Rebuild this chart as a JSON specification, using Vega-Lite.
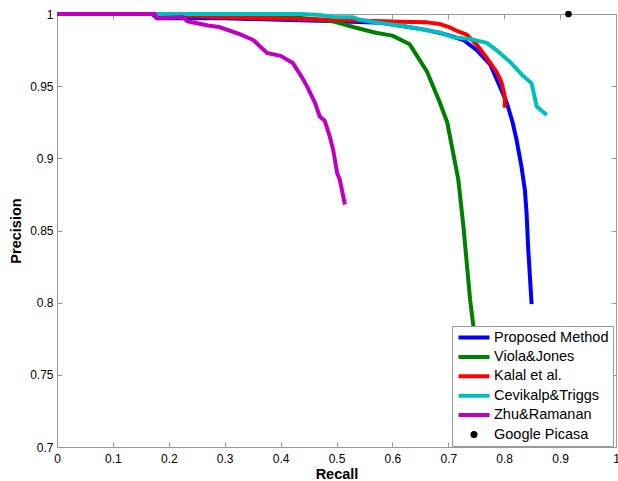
{
  "$schema": "https://vega.github.io/schema/vega-lite/v6.json",
  "autosize": "none",
  "width": 559,
  "height": 433,
  "padding": {"left": 57, "top": 14, "right": 2, "bottom": 34},
  "background": "white",
  "config": {
    "font": "Liberation Sans",
    "view": {"stroke": null}
  },
  "datasets": {
    "curves": [
      {"method": "Proposed Method", "order": 1, "recall": 0, "precision": 1},
      {"method": "Proposed Method", "order": 2, "recall": 0.17, "precision": 1},
      {"method": "Proposed Method", "order": 3, "recall": 0.18, "precision": 0.997},
      {"method": "Proposed Method", "order": 4, "recall": 0.3, "precision": 0.997},
      {"method": "Proposed Method", "order": 5, "recall": 0.4, "precision": 0.996},
      {"method": "Proposed Method", "order": 6, "recall": 0.5, "precision": 0.995},
      {"method": "Proposed Method", "order": 7, "recall": 0.58, "precision": 0.994},
      {"method": "Proposed Method", "order": 8, "recall": 0.62, "precision": 0.9915},
      {"method": "Proposed Method", "order": 9, "recall": 0.66, "precision": 0.989},
      {"method": "Proposed Method", "order": 10, "recall": 0.697, "precision": 0.9857},
      {"method": "Proposed Method", "order": 11, "recall": 0.727, "precision": 0.982},
      {"method": "Proposed Method", "order": 12, "recall": 0.751, "precision": 0.975},
      {"method": "Proposed Method", "order": 13, "recall": 0.775, "precision": 0.965},
      {"method": "Proposed Method", "order": 14, "recall": 0.792, "precision": 0.95},
      {"method": "Proposed Method", "order": 15, "recall": 0.805, "precision": 0.938},
      {"method": "Proposed Method", "order": 16, "recall": 0.815, "precision": 0.925},
      {"method": "Proposed Method", "order": 17, "recall": 0.822, "precision": 0.913},
      {"method": "Proposed Method", "order": 18, "recall": 0.831, "precision": 0.894},
      {"method": "Proposed Method", "order": 19, "recall": 0.837, "precision": 0.878},
      {"method": "Proposed Method", "order": 20, "recall": 0.84, "precision": 0.862},
      {"method": "Proposed Method", "order": 21, "recall": 0.843, "precision": 0.837},
      {"method": "Proposed Method", "order": 22, "recall": 0.846, "precision": 0.818},
      {"method": "Proposed Method", "order": 23, "recall": 0.849, "precision": 0.799},
      {"method": "Viola&Jones", "order": 1, "recall": 0, "precision": 1},
      {"method": "Viola&Jones", "order": 2, "recall": 0.3, "precision": 1},
      {"method": "Viola&Jones", "order": 3, "recall": 0.42, "precision": 0.998},
      {"method": "Viola&Jones", "order": 4, "recall": 0.494, "precision": 0.995},
      {"method": "Viola&Jones", "order": 5, "recall": 0.53, "precision": 0.991},
      {"method": "Viola&Jones", "order": 6, "recall": 0.57, "precision": 0.987},
      {"method": "Viola&Jones", "order": 7, "recall": 0.6, "precision": 0.985},
      {"method": "Viola&Jones", "order": 8, "recall": 0.631, "precision": 0.979},
      {"method": "Viola&Jones", "order": 9, "recall": 0.662, "precision": 0.96},
      {"method": "Viola&Jones", "order": 10, "recall": 0.685, "precision": 0.9385},
      {"method": "Viola&Jones", "order": 11, "recall": 0.698, "precision": 0.925},
      {"method": "Viola&Jones", "order": 12, "recall": 0.718, "precision": 0.885},
      {"method": "Viola&Jones", "order": 13, "recall": 0.727, "precision": 0.853},
      {"method": "Viola&Jones", "order": 14, "recall": 0.739, "precision": 0.802},
      {"method": "Viola&Jones", "order": 15, "recall": 0.745, "precision": 0.7835},
      {"method": "Viola&Jones", "order": 16, "recall": 0.77, "precision": 0.7},
      {"method": "Kalal et al.", "order": 1, "recall": 0, "precision": 1},
      {"method": "Kalal et al.", "order": 2, "recall": 0.17, "precision": 1},
      {"method": "Kalal et al.", "order": 3, "recall": 0.28, "precision": 0.998},
      {"method": "Kalal et al.", "order": 4, "recall": 0.435, "precision": 0.9965},
      {"method": "Kalal et al.", "order": 5, "recall": 0.494, "precision": 0.996},
      {"method": "Kalal et al.", "order": 6, "recall": 0.554, "precision": 0.9954},
      {"method": "Kalal et al.", "order": 7, "recall": 0.614, "precision": 0.9947},
      {"method": "Kalal et al.", "order": 8, "recall": 0.662, "precision": 0.9942},
      {"method": "Kalal et al.", "order": 9, "recall": 0.685, "precision": 0.993},
      {"method": "Kalal et al.", "order": 10, "recall": 0.703, "precision": 0.9907},
      {"method": "Kalal et al.", "order": 11, "recall": 0.715, "precision": 0.9884},
      {"method": "Kalal et al.", "order": 12, "recall": 0.733, "precision": 0.9857},
      {"method": "Kalal et al.", "order": 13, "recall": 0.751, "precision": 0.9787},
      {"method": "Kalal et al.", "order": 14, "recall": 0.769, "precision": 0.9695},
      {"method": "Kalal et al.", "order": 15, "recall": 0.786, "precision": 0.96},
      {"method": "Kalal et al.", "order": 16, "recall": 0.795, "precision": 0.953},
      {"method": "Kalal et al.", "order": 17, "recall": 0.801, "precision": 0.943},
      {"method": "Kalal et al.", "order": 18, "recall": 0.801, "precision": 0.935},
      {"method": "Cevikalp&Triggs", "order": 1, "recall": 0, "precision": 1},
      {"method": "Cevikalp&Triggs", "order": 2, "recall": 0.435, "precision": 1},
      {"method": "Cevikalp&Triggs", "order": 3, "recall": 0.47, "precision": 0.9993},
      {"method": "Cevikalp&Triggs", "order": 4, "recall": 0.494, "precision": 0.998},
      {"method": "Cevikalp&Triggs", "order": 5, "recall": 0.53, "precision": 0.9977},
      {"method": "Cevikalp&Triggs", "order": 6, "recall": 0.542, "precision": 0.996},
      {"method": "Cevikalp&Triggs", "order": 7, "recall": 0.578, "precision": 0.9938},
      {"method": "Cevikalp&Triggs", "order": 8, "recall": 0.614, "precision": 0.992},
      {"method": "Cevikalp&Triggs", "order": 9, "recall": 0.649, "precision": 0.9896},
      {"method": "Cevikalp&Triggs", "order": 10, "recall": 0.685, "precision": 0.9872},
      {"method": "Cevikalp&Triggs", "order": 11, "recall": 0.709, "precision": 0.9838},
      {"method": "Cevikalp&Triggs", "order": 12, "recall": 0.739, "precision": 0.9827},
      {"method": "Cevikalp&Triggs", "order": 13, "recall": 0.769, "precision": 0.98},
      {"method": "Cevikalp&Triggs", "order": 14, "recall": 0.786, "precision": 0.975},
      {"method": "Cevikalp&Triggs", "order": 15, "recall": 0.81, "precision": 0.967},
      {"method": "Cevikalp&Triggs", "order": 16, "recall": 0.834, "precision": 0.957},
      {"method": "Cevikalp&Triggs", "order": 17, "recall": 0.849, "precision": 0.952},
      {"method": "Cevikalp&Triggs", "order": 18, "recall": 0.858, "precision": 0.936},
      {"method": "Cevikalp&Triggs", "order": 19, "recall": 0.876, "precision": 0.93},
      {"method": "Zhu&Ramanan", "order": 1, "recall": 0, "precision": 1},
      {"method": "Zhu&Ramanan", "order": 2, "recall": 0.175, "precision": 1},
      {"method": "Zhu&Ramanan", "order": 3, "recall": 0.178, "precision": 0.997},
      {"method": "Zhu&Ramanan", "order": 4, "recall": 0.225, "precision": 0.998},
      {"method": "Zhu&Ramanan", "order": 5, "recall": 0.233, "precision": 0.995},
      {"method": "Zhu&Ramanan", "order": 6, "recall": 0.27, "precision": 0.992},
      {"method": "Zhu&Ramanan", "order": 7, "recall": 0.29, "precision": 0.991},
      {"method": "Zhu&Ramanan", "order": 8, "recall": 0.327, "precision": 0.986},
      {"method": "Zhu&Ramanan", "order": 9, "recall": 0.351, "precision": 0.982},
      {"method": "Zhu&Ramanan", "order": 10, "recall": 0.376, "precision": 0.973},
      {"method": "Zhu&Ramanan", "order": 11, "recall": 0.4, "precision": 0.971},
      {"method": "Zhu&Ramanan", "order": 12, "recall": 0.422, "precision": 0.966},
      {"method": "Zhu&Ramanan", "order": 13, "recall": 0.44, "precision": 0.955},
      {"method": "Zhu&Ramanan", "order": 14, "recall": 0.447, "precision": 0.95},
      {"method": "Zhu&Ramanan", "order": 15, "recall": 0.462, "precision": 0.938},
      {"method": "Zhu&Ramanan", "order": 16, "recall": 0.47, "precision": 0.929},
      {"method": "Zhu&Ramanan", "order": 17, "recall": 0.479, "precision": 0.926},
      {"method": "Zhu&Ramanan", "order": 18, "recall": 0.488, "precision": 0.915},
      {"method": "Zhu&Ramanan", "order": 19, "recall": 0.494, "precision": 0.906},
      {"method": "Zhu&Ramanan", "order": 20, "recall": 0.501, "precision": 0.89},
      {"method": "Zhu&Ramanan", "order": 21, "recall": 0.506, "precision": 0.885},
      {"method": "Zhu&Ramanan", "order": 22, "recall": 0.515, "precision": 0.868}
    ],
    "points": [
      {"method": "Google Picasa", "recall": 0.915, "precision": 1}
    ]
  },
  "encoding": {
    "x": {
      "field": "recall", "type": "quantitative",
      "scale": {"domain": [0, 1], "nice": false, "zero": false}
    },
    "y": {
      "field": "precision", "type": "quantitative",
      "scale": {"domain": [0.7, 1], "nice": false, "zero": false}
    },
    "color": {
      "field": "method", "type": "nominal",
      "scale": {
        "domain": ["Proposed Method", "Viola&Jones", "Kalal et al.", "Cevikalp&Triggs", "Zhu&Ramanan", "Google Picasa"],
        "range": ["#0000FF", "#008000", "#FF0000", "#00BFBF", "#BF00BF", "#000000"]
      }
    }
  },
  "layer": [
    {
      "data": {"name": "curves"},
      "mark": {"type": "line", "strokeWidth": 4, "strokeJoin": "round", "strokeCap": "butt", "clip": false},
      "encoding": {
        "order": {"field": "order", "type": "quantitative"},
        "x": {
          "field": "recall", "type": "quantitative",
          "axis": {
            "orient": "bottom", "title": "Recall",
            "values": [0, 0.1, 0.2, 0.3, 0.4, 0.5, 0.6, 0.7, 0.8, 0.9, 1],
            "format": "~g", "grid": false,
            "domainColor": "#999999", "tickColor": "#999999", "tickSize": -5,
            "labelFontSize": 12, "labelColor": "#000000", "labelPadding": 11,
            "labelFont": "Liberation Sans", "labelFlush": false,
            "titleFontSize": 14.5, "titleFontWeight": "bold", "titleColor": "#000000",
            "titleFont": "Liberation Sans", "titlePadding": 3
          }
        },
        "y": {
          "field": "precision", "type": "quantitative",
          "axis": {
            "orient": "left", "title": "Precision",
            "values": [0.7, 0.75, 0.8, 0.85, 0.9, 0.95, 1],
            "format": "~g", "grid": false,
            "domainColor": "#999999", "tickColor": "#999999", "tickSize": -5,
            "labelFontSize": 12, "labelColor": "#000000", "labelPadding": 9,
            "labelFont": "Liberation Sans", "labelFlush": false,
            "titleFontSize": 14.5, "titleFontWeight": "bold", "titleColor": "#000000",
            "titleFont": "Liberation Sans", "titlePadding": 6
          }
        },
        "color": {
          "field": "method", "type": "nominal",
          "legend": {
            "title": null, "orient": "none", "legendX": 395, "legendY": 312,
            "fillColor": "white", "strokeColor": "#999999",
            "padding": 4.5, "clipHeight": 14, "rowPadding": 4.4,
            "symbolType": "stroke", "symbolSize": 961, "symbolStrokeWidth": 4,
            "labelFontSize": 14.5, "labelFont": "Liberation Sans", "labelColor": "#000000",
            "labelOffset": 2.5, "labelLimit": 300,
            "encode": {
              "symbols": {
                "update": {
                  "shape": {"signal": "datum.value === 'Google Picasa' ? 'M-0.1,0A0.1,0.1 0 1,0 0.1,0A0.1,0.1 0 1,0 -0.1,0Z' : 'stroke'"},
                  "fill": {"signal": "datum.value === 'Google Picasa' ? '#000000' : 'transparent'"}
                }
              }
            }
          }
        }
      }
    },
    {
      "data": {"name": "points"},
      "mark": {"type": "point", "filled": true, "size": 45, "opacity": 1, "clip": false},
      "encoding": {
        "x": {
          "field": "recall", "type": "quantitative",
          "axis": {
            "orient": "top", "title": null, "labels": false,
            "values": [0, 0.1, 0.2, 0.3, 0.4, 0.5, 0.6, 0.7, 0.8, 0.9, 1],
            "grid": false, "domainColor": "#999999", "tickColor": "#999999", "tickSize": -5
          }
        },
        "y": {
          "field": "precision", "type": "quantitative",
          "axis": {
            "orient": "right", "title": null, "labels": false,
            "values": [0.7, 0.75, 0.8, 0.85, 0.9, 0.95, 1],
            "grid": false, "domainColor": "#999999", "tickColor": "#999999", "tickSize": -5
          }
        }
      }
    }
  ],
  "resolve": {"axis": {"x": "independent", "y": "independent"}}
}
